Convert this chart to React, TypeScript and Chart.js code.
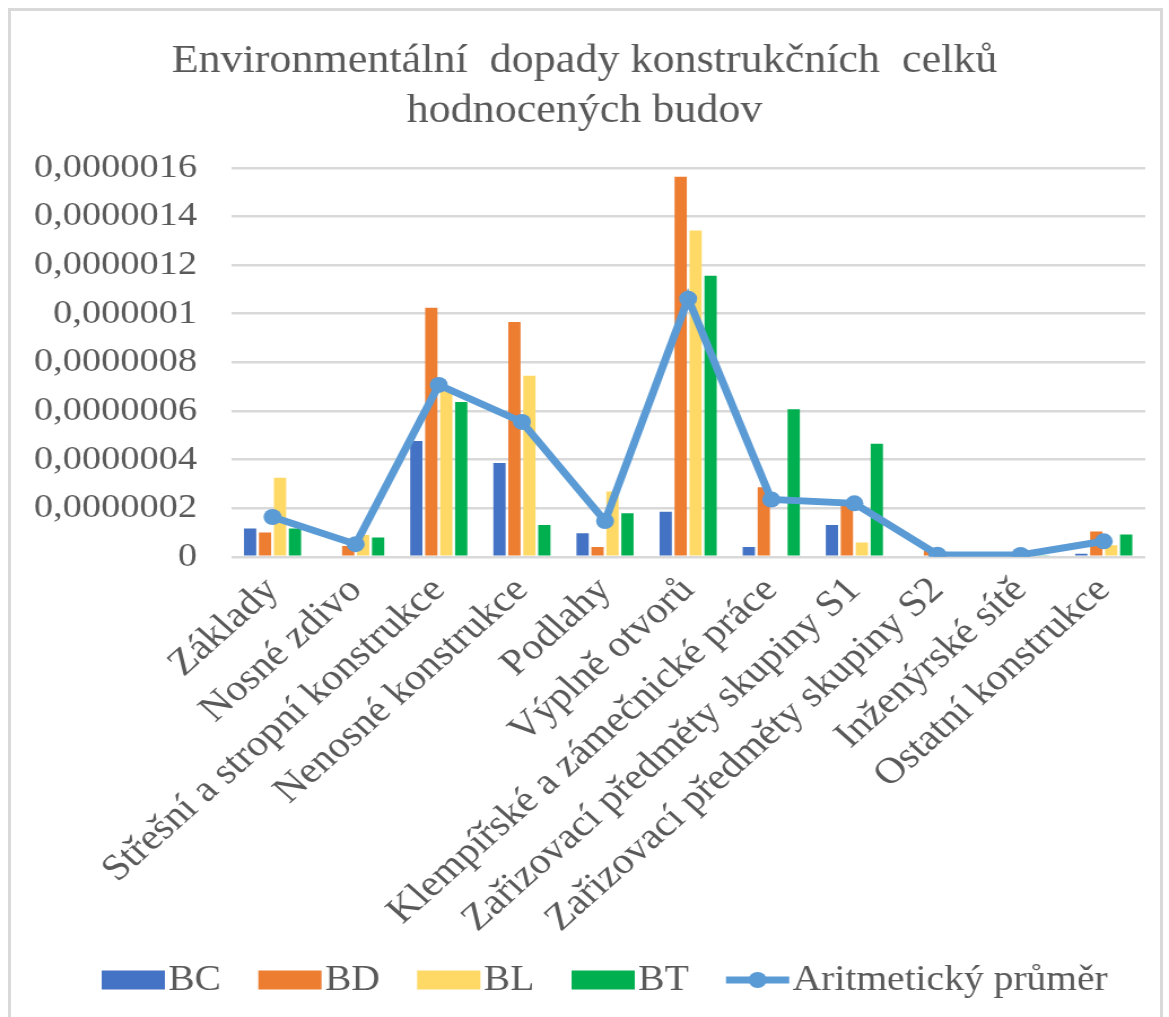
import React, { useEffect, useRef } from 'react';
import { Chart, registerables } from 'chart.js';

Chart.register(...registerables);

const categories = [
  'Základy',
  'Nosné zdivo',
  'Střešní a stropní konstrukce',
  'Nenosné konstrukce',
  'Podlahy',
  'Výplně otvorů',
  'Klempířské a zámečnické práce',
  'Zařizovací předměty skupiny S1',
  'Zařizovací předměty skupiny S2',
  'Inženýrské sítě',
  'Ostatní konstrukce',
];

const bcValues = [1.17e-7, 0, 4.76e-7, 3.86e-7, 9.7e-8, 1.86e-7, 4.1e-8, 1.31e-7, 0, 0, 1.3e-8];
const bdValues = [1.0e-7, 4.5e-8, 1.025e-6, 9.66e-7, 4.1e-8, 1.563e-6, 2.86e-7, 2.2e-7, 2.5e-8, 2.0e-8, 1.04e-7];
const blValues = [3.25e-7, 9.0e-8, 6.9e-7, 7.45e-7, 2.69e-7, 1.342e-6, 0, 5.9e-8, 5e-9, 8e-9, 4.8e-8];
const btValues = [1.17e-7, 8.0e-8, 6.37e-7, 1.31e-7, 1.79e-7, 1.156e-6, 6.07e-7, 4.65e-7, 5e-9, 4e-9, 9.2e-8];
const avgValues = [1.64e-7, 5.2e-8, 7.07e-7, 5.55e-7, 1.47e-7, 1.062e-6, 2.36e-7, 2.2e-7, 9e-9, 8e-9, 6.4e-8];

const seriesNames = ['BC', 'BD', 'BL', 'BT', 'Aritmetický průměr'];
const seriesColors = ['#4472C4', '#ED7D31', '#FFD966', '#00B050', '#5B9BD5'];

const yTickLabels = [
  '0',
  '0,0000002',
  '0,0000004',
  '0,0000006',
  '0,0000008',
  '0,000001',
  '0,0000012',
  '0,0000014',
  '0,0000016',
];
const yStep = 2e-7;
const yMax = 1.6e-6;

const titleLines = ['Environmentální  dopady konstrukčních  celků', 'hodnocených budov'];

const FONT = '"Liberation Serif", "Times New Roman", serif';
const TEXT_COLOR = '#595959';
const CANVAS_W = 1035;
const CANVAS_H = 1017;
const STRETCH = 1169 / CANVAS_W;

const legendPlugin = {
  id: 'customLegend',
  afterDraw(chart: any) {
    const ctx = chart.ctx;
    ctx.save();
    const fontSize = 35;
    ctx.font = `${fontSize}px ${FONT}`;
    ctx.textBaseline = 'middle';
    ctx.textAlign = 'left';
    const boxW = 56;
    const boxH = 19;
    const gapText = 3;
    const gapItem = 33;
    const y = 980;
    let x = 90;
    chart.data.datasets.forEach((ds: any) => {
      const color = ds.borderColor || ds.backgroundColor;
      if (ds.type === 'line') {
        ctx.strokeStyle = color;
        ctx.lineWidth = 7;
        ctx.beginPath();
        ctx.moveTo(x, y);
        ctx.lineTo(x + boxW, y);
        ctx.stroke();
        ctx.fillStyle = color;
        ctx.beginPath();
        ctx.arc(x + boxW / 2, y, 8, 0, Math.PI * 2);
        ctx.fill();
      } else {
        ctx.fillStyle = ds.backgroundColor;
        ctx.fillRect(x, y - boxH / 2, boxW, boxH);
      }
      x += boxW + gapText;
      ctx.fillStyle = TEXT_COLOR;
      ctx.fillText(ds.label, x, y + 1);
      x += ctx.measureText(ds.label).width + gapItem;
    });
    ctx.restore();
  },
};

export default function App() {
  const canvasRef = useRef<HTMLCanvasElement | null>(null);

  useEffect(() => {
    if (!canvasRef.current) return;
    const barSeries = [bcValues, bdValues, blValues, btValues];
    const datasets: any[] = barSeries.map((vals, i) => ({
      type: 'bar',
      label: seriesNames[i],
      data: vals,
      backgroundColor: seriesColors[i],
      borderWidth: 0,
      order: 1,
      categoryPercentage: 0.72,
      barPercentage: 0.82,
    }));
    datasets.push({
      type: 'line',
      label: seriesNames[4],
      data: avgValues,
      borderColor: seriesColors[4],
      backgroundColor: seriesColors[4],
      borderWidth: 7,
      pointRadius: 8,
      pointBackgroundColor: seriesColors[4],
      pointBorderColor: seriesColors[4],
      pointBorderWidth: 0,
      tension: 0,
      order: 0,
    });

    const chart = new Chart(canvasRef.current, {
      type: 'bar',
      data: { labels: categories, datasets },
      plugins: [legendPlugin],
      options: {
        animation: false,
        responsive: true,
        maintainAspectRatio: false,
        devicePixelRatio: 1,
        layout: { padding: { left: 0, right: 0, top: 0, bottom: 64 } },
        plugins: {
          legend: { display: false },
          tooltip: { enabled: false },
          title: {
            display: true,
            text: titleLines,
            color: TEXT_COLOR,
            font: { family: FONT, size: 39, weight: 'normal', lineHeight: 1.28 },
            padding: { top: 37, bottom: 31 },
          },
        },
        scales: {
          x: {
            grid: { display: false, drawTicks: false },
            border: { display: false },
            ticks: {
              color: TEXT_COLOR,
              font: { family: FONT, size: 37 },
              minRotation: 45,
              maxRotation: 45,
              autoSkip: false,
              padding: 12,
            },
          },
          y: {
            min: 0,
            max: yMax,
            grid: { color: '#d9d9d9', lineWidth: 2.5, drawTicks: false },
            border: { display: false },
            ticks: {
              stepSize: yStep,
              color: TEXT_COLOR,
              font: { family: FONT, size: 34 },
              padding: 30,
              callback: (value: any) => yTickLabels[Math.round(Number(value) / yStep)],
            },
          },
          rightGap: {
            type: 'linear',
            position: 'right',
            display: true,
            grid: { display: false, drawTicks: false },
            border: { display: false },
            ticks: { display: false },
            afterFit: (scale: any) => {
              scale.width = 21;
            },
          },
        },
      },
    } as any);
    return () => chart.destroy();
  }, []);

  return (
    <div style={{ position: 'absolute', left: 0, top: 0, width: 1169, height: 1017, overflow: 'hidden', background: '#fff' }}>
      <div
        style={{
          position: 'absolute',
          left: 8,
          top: 8,
          width: 1155,
          height: 1040,
          border: '3px solid #d9d9d9',
          boxSizing: 'border-box',
        }}
      />
      <div
        style={{
          position: 'absolute',
          left: 0,
          top: 0,
          width: CANVAS_W,
          height: CANVAS_H,
          transform: `scaleX(${STRETCH})`,
          transformOrigin: '0 0',
        }}
      >
        <canvas ref={canvasRef} />
      </div>
    </div>
  );
}
